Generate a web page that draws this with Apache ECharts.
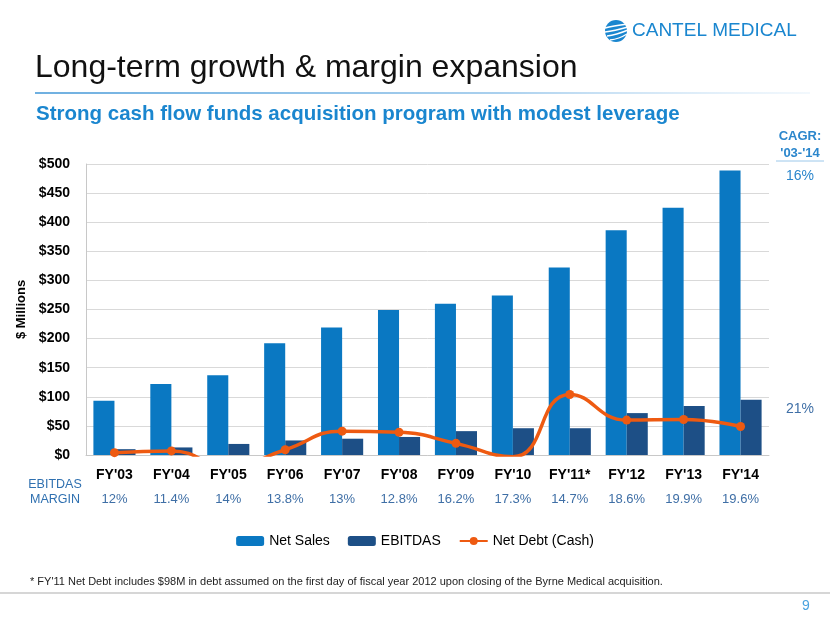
<!DOCTYPE html>
<html>
<head>
<meta charset="utf-8">
<script src="https://cdn.jsdelivr.net/npm/echarts@6/dist/echarts.min.js"></script>
<style>
html,body{margin:0;padding:0;background:#fff;}
#c{width:830px;height:623px;}
</style>
</head>
<body>
<div id="c"></div>
<script>
const categories = ["FY'03","FY'04","FY'05","FY'06","FY'07","FY'08","FY'09","FY'10","FY'11*","FY'12","FY'13","FY'14"];
const netSales = [93, 122, 137, 192, 219, 249, 260, 274, 322, 386, 425, 489];
const ebitdas = [10, 13, 19, 25, 28, 31, 41, 46, 46, 72, 84, 95];
const netDebt = [4, 7, -20, 9, 41, 39, 20, -3, 104, 60, 61, 49];
const margins = ["12%","11.4%","14%","13.8%","13%","12.8%","16.2%","17.3%","14.7%","18.6%","19.9%","19.6%"];
const yTicks = {min: 0, max: 500, interval: 50};

const chart = echarts.init(document.getElementById('c'), null, {renderer: 'canvas'});
const FONT = '"Liberation Sans", Arial, sans-serif';

const option = {
  backgroundColor: '#ffffff',
  animation: false,
  grid: {left: 86, right: 61, top: 164, bottom: 168, containLabel: false},
  legend: {
    bottom: 70,
    left: 'center',
    itemGap: 18,
    itemWidth: 28,
    itemHeight: 10,
    textStyle: {fontFamily: FONT, fontSize: 14, color: '#000'},
    data: ['Net Sales', 'EBITDAS', 'Net Debt (Cash)']
  },
  xAxis: {
    type: 'category',
    data: categories,
    axisLine: {show: true, lineStyle: {color: '#c8c8c8'}},
    axisTick: {show: false},
    axisLabel: {
      interval: 0,
      margin: 8,
      fontFamily: FONT,
      fontSize: 14,
      fontWeight: 'bold',
      color: '#000',
      lineHeight: 24,
      formatter: function (v, i) { return v + '\n{m|' + margins[i] + '}'; },
      rich: {m: {fontFamily: FONT, fontSize: 13, fontWeight: 'normal', color: '#3f6fa6', lineHeight: 24}}
    }
  },
  yAxis: {
    type: 'value',
    min: yTicks.min, max: yTicks.max, interval: yTicks.interval,
    name: '$ Millions',
    nameLocation: 'middle',
    nameGap: 58,
    nameRotate: 90,
    nameTextStyle: {fontFamily: FONT, fontSize: 13, fontWeight: 'bold', color: '#000'},
    axisLine: {show: true, lineStyle: {color: '#c8c8c8'}},
    axisTick: {show: false},
    axisLabel: {fontFamily: FONT, fontSize: 14, fontWeight: 'bold', color: '#000', margin: 16,
      formatter: v => '$' + v},
    splitLine: {lineStyle: {color: '#d9d9d9'}}
  },
  series: [
    {name: 'Net Sales', type: 'bar', data: netSales, barGap: '0%', barCategoryGap: '26%',
      itemStyle: {color: '#0a78c2'}},
    {name: 'EBITDAS', type: 'bar', data: ebitdas,
      itemStyle: {color: '#1d4f86'}},
    {name: 'Net Debt (Cash)', type: 'line', data: netDebt, smooth: 0.5, clip: true,
      symbol: 'circle', symbolSize: 9,
      lineStyle: {color: '#ee5a11', width: 3.5},
      itemStyle: {color: '#ee5a11'}}
  ],
  graphic: [
    {type: 'text', left: 35, top: 52, style: {text: 'Long-term growth & margin expansion', font: '32px ' + FONT, fill: '#111'}},
    {type: 'line', shape: {x1: 35, y1: 93, x2: 810, y2: 93},
      style: {stroke: new echarts.graphic.LinearGradient(0, 0, 1, 0, [{offset: 0, color: '#3e95d6'}, {offset: 0.6, color: '#8dc0e8'}, {offset: 1, color: 'rgba(200,225,245,0.3)'}]), lineWidth: 1.5}},
    {type: 'text', left: 36, top: 104, style: {text: 'Strong cash flow funds acquisition program with modest leverage', font: 'bold 20.5px ' + FONT, fill: '#1a86cf'}},
    // logo
    {type: 'circle', shape: {cx: 616, cy: 31, r: 11}, style: {fill: '#1a86cf'}},
    {type: 'bezierCurve', shape: {x1: 605, y1: 28, x2: 628, y2: 24, cpx1: 612, cpy1: 26}, style: {stroke: '#fff', lineWidth: 1.4, fill: null}},
    {type: 'bezierCurve', shape: {x1: 605, y1: 32, x2: 628, y2: 27, cpx1: 614, cpy1: 31}, style: {stroke: '#fff', lineWidth: 1.4, fill: null}},
    {type: 'bezierCurve', shape: {x1: 607, y1: 36, x2: 628, y2: 30, cpx1: 616, cpy1: 35}, style: {stroke: '#fff', lineWidth: 1.4, fill: null}},
    {type: 'bezierCurve', shape: {x1: 610, y1: 40, x2: 627, y2: 34, cpx1: 619, cpy1: 39}, style: {stroke: '#fff', lineWidth: 1.4, fill: null}},
    {type: 'text', left: 632, top: 21, style: {text: 'CANTEL MEDICAL', font: '19px ' + FONT, fill: '#1a86cf'}},
    // CAGR
    {type: 'text', x: 800, y: 136, style: {text: 'CAGR:', font: 'bold 13px ' + FONT, fill: '#2b86cc', align: 'center', verticalAlign: 'middle'}},
    {type: 'text', x: 800, y: 153, style: {text: "'03-'14", font: 'bold 13px ' + FONT, fill: '#2b86cc', align: 'center', verticalAlign: 'middle'}},
    {type: 'line', shape: {x1: 776, y1: 161, x2: 824, y2: 161}, style: {stroke: '#9cc8ea', lineWidth: 1}},
    {type: 'text', x: 800, y: 176, style: {text: '16%', font: '14px ' + FONT, fill: '#2b86cc', align: 'center', verticalAlign: 'middle'}},
    {type: 'text', x: 800, y: 409, style: {text: '21%', font: '14px ' + FONT, fill: '#3f6fa6', align: 'center', verticalAlign: 'middle'}},
    // EBITDAS MARGIN
    {type: 'text', x: 55, y: 485, style: {text: 'EBITDAS', font: '12.5px ' + FONT, fill: '#2f70b0', align: 'center', verticalAlign: 'middle'}},
    {type: 'text', x: 55, y: 500, style: {text: 'MARGIN', font: '12.5px ' + FONT, fill: '#2f70b0', align: 'center', verticalAlign: 'middle'}},
    // footnote
    {type: 'text', left: 30, top: 576, style: {text: "* FY'11 Net Debt includes $98M in debt assumed on the first day of fiscal year 2012 upon closing of the Byrne Medical acquisition.", font: '11px ' + FONT, fill: '#222'}},
    {type: 'line', shape: {x1: 0, y1: 593, x2: 830, y2: 593}, style: {stroke: '#c8c8c8', lineWidth: 1.5}},
    {type: 'text', x: 806, y: 606, style: {text: '9', font: '14px ' + FONT, fill: '#4aa3df', align: 'center', verticalAlign: 'middle'}}
  ]
};
chart.setOption(option);
</script>
</body>
</html>
